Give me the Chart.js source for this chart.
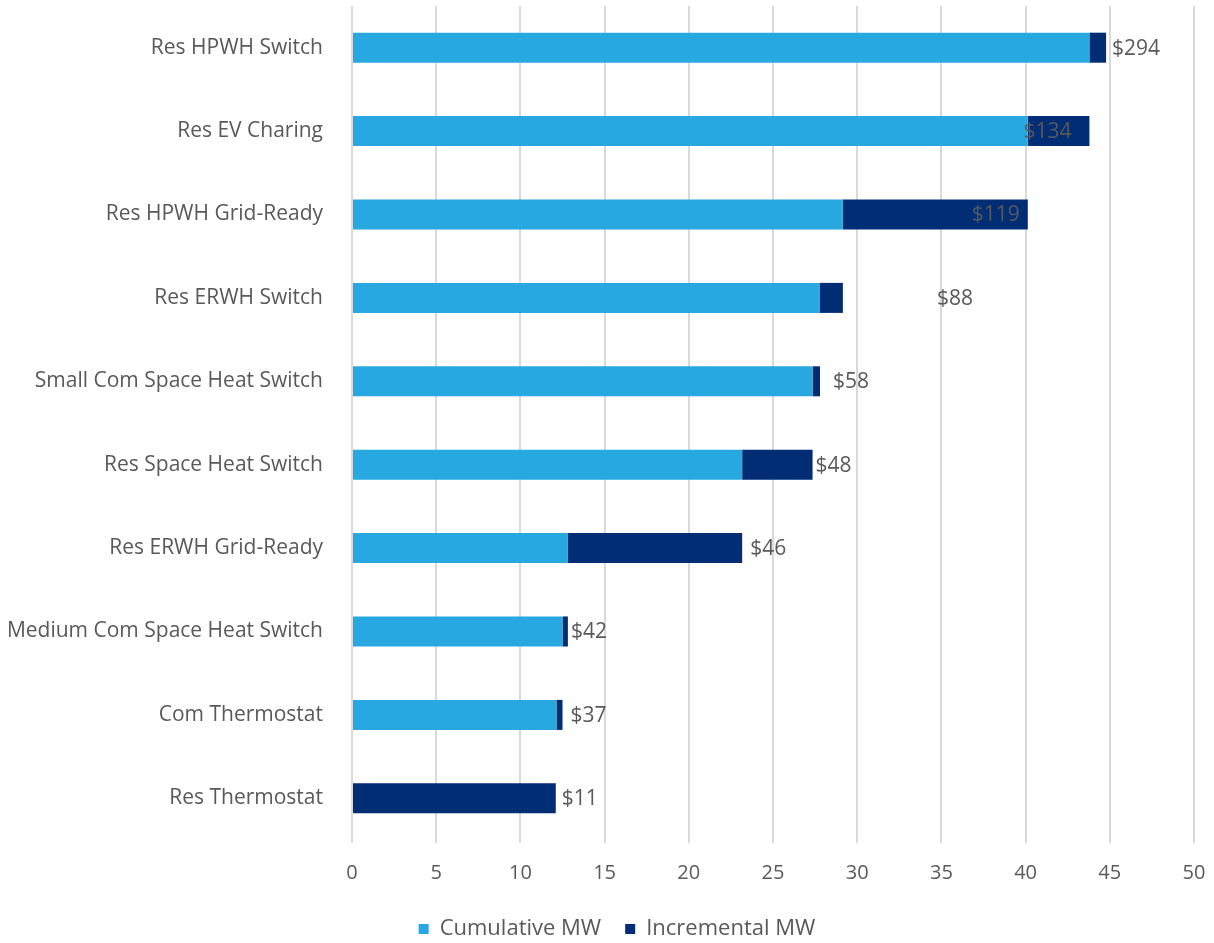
<!DOCTYPE html>
<html>
<head>
<meta charset="utf-8">
<script src="https://cdn.jsdelivr.net/npm/chart.js@4/dist/chart.umd.min.js"></script>
<style>
  html, body { margin: 0; padding: 0; background: #ffffff; overflow: hidden; }
  #wrap { width: 1214px; height: 943px; position: relative; }
</style>
</head>
<body>
<div id="wrap"><canvas id="chart"></canvas></div>
<script>
// Demand-response measures, ordered from highest to lowest cost
const measures = [
  'Res HPWH Switch',
  'Res EV Charing',
  'Res HPWH Grid-Ready',
  'Res ERWH Switch',
  'Small Com Space Heat Switch',
  'Res Space Heat Switch',
  'Res ERWH Grid-Ready',
  'Medium Com Space Heat Switch',
  'Com Thermostat',
  'Res Thermostat'
];

// MW already achieved by the cheaper measures below each one
const cumulativeMW = [43.79, 40.13, 29.15, 27.79, 27.35, 23.17, 12.82, 12.50, 12.14, 0];

// MW added by each measure
const incrementalMW = [0.99, 3.66, 10.98, 1.36, 0.44, 4.18, 10.35, 0.32, 0.36, 12.10];

// Levelized cost of each measure ($)
const costLabels = ['$294', '$134', '$119', '$88', '$58', '$48', '$46', '$42', '$37', '$11'];

// x-axis tick range
const xMin = 0, xMax = 50, xStep = 5;

const FONT = "'Open Sans', 'Noto Sans', sans-serif";
const TEXT = '#595959';

// Horizontal nudge (px) of each cost label from the end of its bar
const costLabelShift = [6, -66, -56, 94, 13, 3, 8, 3, 8, 6];

const costLabelPlugin = {
  id: 'costLabels',
  afterDatasetsDraw(chart) {
    const ctx = chart.ctx;
    const xs = chart.scales.x;
    const meta = chart.getDatasetMeta(1);
    ctx.save();
    ctx.font = '21px ' + FONT;
    ctx.fillStyle = TEXT;
    ctx.textAlign = 'left';
    ctx.textBaseline = 'middle';
    measures.forEach((m, i) => {
      const end = xs.getPixelForValue(cumulativeMW[i] + incrementalMW[i]);
      const y = meta.data[i].y;
      ctx.fillText(costLabels[i], end + costLabelShift[i], y + 1);
    });
    ctx.restore();
  }
};

// Sit the legend a little lower and centred on the page
const legendNudge = {
  id: 'legendNudge',
  afterLayout(chart) {
    const lg = chart.legend;
    if (lg) {
      lg.top += 7; lg.bottom += 7;
      lg.left += 20; lg.right += 20;
    }
  }
};

// Fixed axis sizes; no extra edge padding from the tick labels
function fixBox(size, key) {
  return function (scale) {
    scale[key] = size;
    scale.paddingTop = 0;
    scale.paddingBottom = 0;
    scale.paddingLeft = 0;
    scale.paddingRight = 0;
  };
}

new Chart(document.getElementById('chart'), {
  type: 'bar',
  data: {
    labels: measures,
    datasets: [
      {
        label: 'Cumulative MW',
        data: cumulativeMW,
        backgroundColor: '#27A8E0',
        borderWidth: 0
      },
      {
        label: 'Incremental MW',
        data: incrementalMW,
        backgroundColor: '#002D74',
        borderWidth: 0
      }
    ]
  },
  options: {
    indexAxis: 'y',
    responsive: true,
    maintainAspectRatio: false,
    animation: false,
    devicePixelRatio: 1,
    layout: { autoPadding: false, padding: { top: 6, right: 20, left: 0, bottom: 0 } },
    datasets: {
      bar: { categoryPercentage: 1.0, barPercentage: 0.36 }
    },
    scales: {
      x: {
        stacked: true,
        min: xMin,
        max: xMax,
        ticks: {
          stepSize: xStep,
          color: TEXT,
          font: { family: FONT, size: 20 },
          padding: 18
        },
        grid: {
          color: '#D9D9D9',
          lineWidth: 2,
          drawTicks: true,
          tickLength: 3
        },
        border: { display: false },
        afterFit: fixBox(47, 'height')
      },
      y: {
        stacked: true,
        ticks: {
          color: TEXT,
          font: { family: FONT, size: 21 },
          padding: 29
        },
        grid: { display: false, drawTicks: false },
        border: { display: false },
        afterFit: fixBox(352, 'width')
      }
    },
    plugins: {
      legend: {
        position: 'bottom',
        labels: {
          color: TEXT,
          font: { family: FONT, size: 22 },
          boxWidth: 10,
          boxHeight: 10,
          padding: 24
        }
      },
      tooltip: { enabled: false }
    }
  },
  plugins: [costLabelPlugin, legendNudge]
});
</script>
</body>
</html>
